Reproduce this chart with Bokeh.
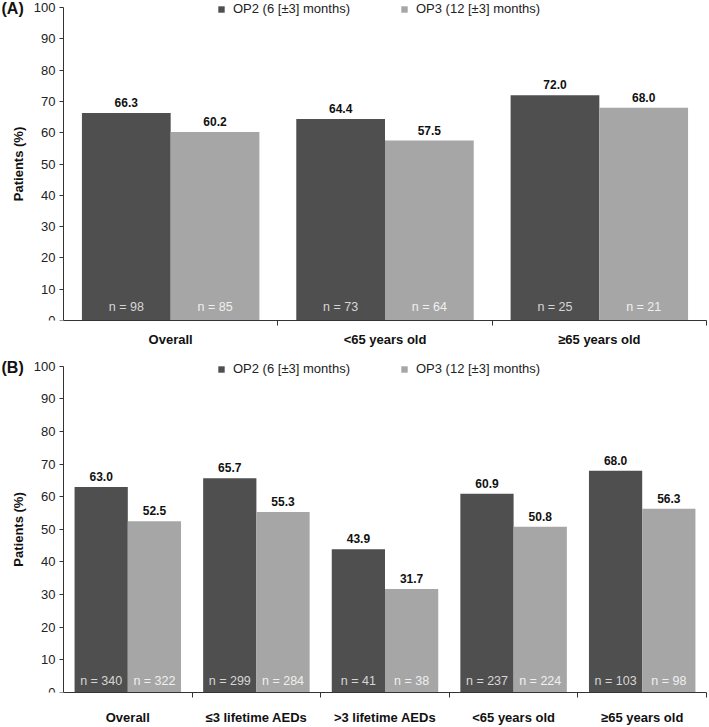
from bokeh.plotting import figure
from bokeh.layouts import column
from bokeh.models import FixedTicker, Legend, LegendItem, ColumnDataSource, Range1d
from bokeh.embed import file_html
from bokeh.resources import INLINE
from bokeh.core.properties import value

# ---- data ----
cats_a = ["Overall", "<65 years old", "≥65 years old"]
op2_a = [66.3, 64.4, 72.0]
op3_a = [60.2, 57.5, 68.0]
n2_a = [98, 73, 25]
n3_a = [85, 64, 21]

cats_b = ["Overall", "≤3 lifetime AEDs", ">3 lifetime AEDs", "<65 years old", "≥65 years old"]
op2_b = [63.0, 65.7, 43.9, 60.9, 68.0]
op3_b = [52.5, 55.3, 31.7, 50.8, 56.3]
n2_b = [340, 299, 41, 237, 103]
n3_b = [322, 284, 38, 224, 98]

series_names = ["OP2 (6 [±3] months)", "OP3 (12 [±3] months)"]
y_ticks = list(range(0, 101, 10))
y_label = "Patients (%)"

DARK = "#4f4f4f"
LIGHT = "#a6a6a6"
AXIS = "#333333"
FONT = "Liberation Sans"
FONT_V = value(FONT)

W = 709
AXIS_X = 63      # px from left where y axis sits
RIGHT = 3        # right border


def make_panel(tag, cats, v2, v3, n2, n3, height, frame_h, plot_h, n_off, legend_y, lab_off):
    n = len(cats)
    frame_w = W - RIGHT
    gw = (frame_w - AXIS_X) / n
    x0 = -AXIS_X / gw
    y_end = 100 * frame_h / plot_h
    p = figure(width=W, height=height, output_backend="svg", toolbar_location=None,
               x_range=Range1d(x0, n), y_range=Range1d(0, y_end),
               min_border_left=0, min_border_right=RIGHT, min_border_top=0,
               min_border_bottom=height - frame_h)
    p.outline_line_color = None
    p.xgrid.visible = False
    p.ygrid.visible = False

    centers = [i + 0.5 for i in range(n)]
    x2 = [c - 0.207 for c in centers]
    x3 = [c + 0.207 for c in centers]
    src = ColumnDataSource(dict(
        x2=x2, x3=x3, v2=v2, v3=v3,
        t2=[f"{v:.1f}" for v in v2], t3=[f"{v:.1f}" for v in v3],
        n2=[f"n = {k}" for k in n2], n3=[f"n = {k}" for k in n3],
        zero=[0] * n,
    ))
    r2 = p.vbar(x="x2", top="v2", width=0.414, source=src, fill_color=DARK, line_color=None)
    r3 = p.vbar(x="x3", top="v3", width=0.414, source=src, fill_color=LIGHT, line_color=None)

    for xc, yc, tc in (("x2", "v2", "t2"), ("x3", "v3", "t3")):
        p.text(x=xc, y=yc, text=tc, source=src, text_align="center", text_baseline="bottom",
               y_offset=-6, text_font=FONT_V, text_font_style="bold", text_font_size="12px",
               text_color="#111111")
    for xc, tc, col in (("x2", "n2", "#d6d6d6"), ("x3", "n3", "#f0f0f0")):
        p.text(x=xc, y="zero", text=tc, source=src, text_align="center", text_baseline="middle",
               y_offset=n_off, text_font=FONT_V, text_font_size="12.5px", text_color=col)

    # panel tag
    p.text(x=[x0], y=[100], text=[tag], text_align="left", text_baseline="middle",
           x_offset=1, y_offset=1, text_font=FONT_V, text_font_style="bold",
           text_font_size="16px", text_color="#111111")

    # axes
    xa = p.xaxis[0]
    xa.bounds = (0, n)
    xa.ticker = FixedTicker(ticks=centers, minor_ticks=list(range(1, n + 1)))
    xa.major_label_overrides = {c: name for c, name in zip(centers, cats)}
    xa.major_tick_line_color = None
    xa.major_tick_out = 0
    xa.major_tick_in = 0
    xa.minor_tick_line_color = AXIS
    xa.minor_tick_out = 5
    xa.minor_tick_in = 0
    xa.axis_line_color = AXIS
    xa.major_label_text_font = FONT
    xa.major_label_text_font_style = "bold"
    xa.major_label_text_font_size = "13px"
    xa.major_label_text_color = "#111111"
    xa.major_label_standoff = lab_off

    ya = p.yaxis[0]
    ya.fixed_location = 0
    ya.bounds = (0, 100)
    ya.ticker = FixedTicker(ticks=y_ticks)
    ya.axis_line_color = AXIS
    ya.major_tick_line_color = AXIS
    ya.major_tick_out = 4
    ya.major_tick_in = 0
    ya.minor_tick_line_color = None
    ya.major_label_text_font = FONT
    ya.major_label_text_font_size = "13px"
    ya.major_label_text_color = "#222222"
    ya.major_label_standoff = 4
    ya.axis_label = y_label
    ya.axis_label_text_font = FONT
    ya.axis_label_text_font_style = "bold"
    ya.axis_label_text_font_size = "13px"
    ya.axis_label_text_color = "#111111"
    ya.axis_label_standoff = 5

    legend = Legend(items=[LegendItem(label=series_names[0], renderers=[r2]),
                           LegendItem(label=series_names[1], renderers=[r3])],
                    orientation="horizontal", location=(217, legend_y),
                    glyph_width=8, glyph_height=8, label_standoff=8, spacing=50,
                    padding=0, margin=0, label_height=14,
                    label_text_font=FONT, label_text_font_size="13px",
                    label_text_color="#222222",
                    background_fill_alpha=0, border_line_color=None)
    p.add_layout(legend)
    return p


pA = make_panel("(A)", cats_a, op2_a, op3_a, n2_a, n3_a, 356, 320, 313, -14, 304, 6)
pB = make_panel("(B)", cats_b, op2_b, op3_b, n2_b, n3_b, 371, 345, 335, -12, 316, 12)

layout = column(pA, pB, spacing=0)
open("out.html", "w").write(file_html(layout, INLINE))
